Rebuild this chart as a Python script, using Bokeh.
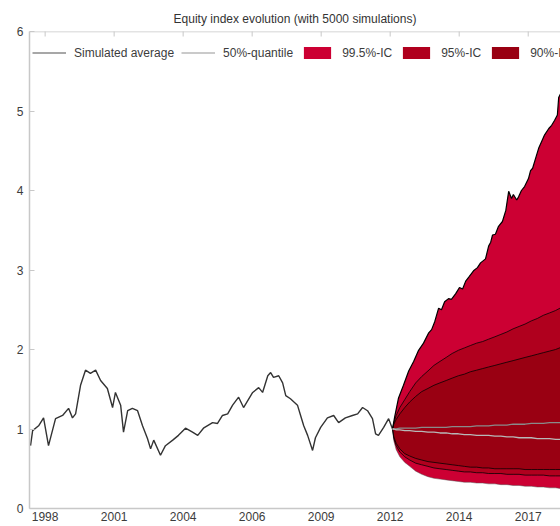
import math
from bokeh.plotting import figure
from bokeh.models import Legend, LegendItem, FixedTicker, Range1d, Span
from bokeh.embed import file_html
from bokeh.resources import INLINE

title_text = "Equity index evolution (with 5000 simulations)"

# historical index (decimal years, value)
hist_years = [1998.34, 1998.42, 1998.65, 1998.84, 1999.03, 1999.30, 1999.57, 1999.80, 1999.95, 2000.07,
              2000.26, 2000.45, 2000.64, 2000.84, 2001.03, 2001.29, 2001.49, 2001.60, 2001.80, 2001.91,
              2002.07, 2002.25, 2002.45, 2002.64, 2002.83, 2002.95, 2003.07, 2003.33, 2003.52, 2003.80,
              2004.02, 2004.29, 2004.56, 2004.76, 2004.98, 2005.33, 2005.52, 2005.71, 2005.91, 2006.10,
              2006.33, 2006.52, 2006.87, 2007.10, 2007.25, 2007.45, 2007.56, 2007.67, 2007.87, 2008.02,
              2008.14, 2008.32, 2008.59, 2008.71, 2008.83, 2008.98, 2009.17, 2009.28, 2009.48, 2009.74,
              2009.98, 2010.17, 2010.43, 2010.70, 2010.90, 2011.09, 2011.28, 2011.47, 2011.59, 2011.70,
              2011.90, 2012.09, 2012.24]
hist_values = [0.79, 0.98, 1.04, 1.14, 0.79, 1.13, 1.17, 1.26, 1.14, 1.19,
               1.55, 1.74, 1.70, 1.74, 1.61, 1.51, 1.27, 1.46, 1.30, 0.96,
               1.23, 1.26, 1.23, 1.04, 0.88, 0.75, 0.86, 0.67, 0.79, 0.86,
               0.92, 1.01, 0.96, 0.92, 1.01, 1.08, 1.07, 1.17, 1.19, 1.30,
               1.40, 1.27, 1.46, 1.52, 1.46, 1.67, 1.71, 1.65, 1.67, 1.58,
               1.42, 1.38, 1.30, 1.17, 1.04, 0.92, 0.73, 0.89, 1.02, 1.14,
               1.17, 1.08, 1.14, 1.17, 1.19, 1.27, 1.23, 1.13, 0.94, 0.92,
               1.02, 1.13, 1.00]

# simulated fan
fan_years = [2012.24, 2012.29, 2012.38, 2012.52, 2012.71, 2012.90, 2013.13, 2013.36, 2013.60, 2013.83,
             2014.06, 2014.30, 2014.53, 2014.77, 2015.00, 2015.23, 2015.47, 2015.70, 2015.93, 2016.17,
             2016.40, 2016.63, 2016.87, 2017.10, 2017.33, 2017.57, 2017.80, 2018.03, 2018.27, 2018.50,
             2018.73]
sim_average = [1.00, 1.00, 1.00, 1.01, 1.01, 1.01, 1.01, 1.02, 1.02, 1.02, 1.02, 1.02, 1.03, 1.03, 1.03,
               1.03, 1.04, 1.04, 1.04, 1.05, 1.05, 1.05, 1.06, 1.06, 1.06, 1.07, 1.07, 1.07, 1.08, 1.08, 1.08]
sim_median = [1.00, 1.00, 0.99, 0.99, 0.98, 0.98, 0.97, 0.97, 0.96, 0.96, 0.95, 0.95, 0.94, 0.94, 0.93,
              0.93, 0.92, 0.92, 0.92, 0.91, 0.91, 0.90, 0.90, 0.89, 0.89, 0.89, 0.88, 0.88, 0.88, 0.87, 0.87]
upper_90 = [1.00, 1.06, 1.12, 1.19, 1.27, 1.34, 1.41, 1.47, 1.51, 1.55, 1.58, 1.61, 1.64, 1.67, 1.69,
            1.72, 1.74, 1.76, 1.78, 1.80, 1.82, 1.84, 1.86, 1.88, 1.90, 1.92, 1.94, 1.96, 1.98, 2.00, 2.03]
lower_90 = [1.00, 0.90, 0.82, 0.75, 0.69, 0.66, 0.63, 0.61, 0.59, 0.58, 0.57, 0.56, 0.55, 0.54, 0.53,
            0.52, 0.52, 0.51, 0.51, 0.50, 0.50, 0.50, 0.50, 0.50, 0.49, 0.49, 0.49, 0.49, 0.49, 0.49, 0.49]
upper_95 = [1.00, 1.08, 1.17, 1.27, 1.37, 1.47, 1.58, 1.66, 1.73, 1.80, 1.85, 1.90, 1.95, 1.99, 2.02,
            2.05, 2.08, 2.10, 2.13, 2.16, 2.19, 2.22, 2.26, 2.29, 2.32, 2.36, 2.39, 2.43, 2.46, 2.49, 2.53]
lower_95 = [1.00, 0.88, 0.79, 0.71, 0.65, 0.61, 0.57, 0.55, 0.53, 0.51, 0.50, 0.49, 0.48, 0.47, 0.46,
            0.46, 0.45, 0.45, 0.44, 0.44, 0.44, 0.43, 0.43, 0.43, 0.42, 0.42, 0.42, 0.42, 0.41, 0.41, 0.41]
lower_995 = [1.00, 0.85, 0.74, 0.65, 0.58, 0.53, 0.47, 0.43, 0.40, 0.38, 0.37, 0.36, 0.35, 0.34, 0.33,
             0.33, 0.32, 0.32, 0.31, 0.31, 0.30, 0.30, 0.29, 0.29, 0.28, 0.28, 0.27, 0.27, 0.26, 0.26, 0.25]
upper_995_years = [2012.24, 2012.32, 2012.47, 2012.66, 2012.86, 2013.05, 2013.24, 2013.43, 2013.63, 2013.74,
                   2013.86, 2014.01, 2014.12, 2014.24, 2014.39, 2014.50, 2014.66, 2014.81, 2014.93, 2015.05,
                   2015.19, 2015.35, 2015.50, 2015.62, 2015.81, 2015.93, 2016.01, 2016.08, 2016.19, 2016.31,
                   2016.46, 2016.59, 2016.70, 2016.81, 2016.88, 2017.01, 2017.08, 2017.19, 2017.31, 2017.46,
                   2017.54, 2017.62, 2017.73, 2017.85, 2017.97, 2018.08, 2018.24, 2018.35, 2018.46, 2018.57,
                   2018.62, 2018.73]
upper_995 = [1.00, 1.15, 1.39, 1.55, 1.73, 1.85, 1.99, 2.08, 2.21, 2.25,
             2.35, 2.52, 2.50, 2.60, 2.64, 2.63, 2.70, 2.78, 2.76, 2.86,
             2.92, 2.99, 3.03, 3.09, 3.14, 3.30, 3.35, 3.44, 3.45, 3.55,
             3.61, 3.75, 3.99, 3.90, 3.95, 3.88, 3.92, 4.00, 4.05, 4.15,
             4.25, 4.28, 4.40, 4.53, 4.62, 4.70, 4.78, 4.82, 4.88, 4.95,
             5.17, 5.24]

x_tick_positions = [1998.9, 2001.55, 2004.2, 2006.85, 2009.5, 2012.15, 2014.8, 2017.45]
x_tick_labels = ["1998", "2001", "2004", "2006", "2009", "2012", "2014", "2017"]
y_ticks = [0, 1, 2, 3, 4, 5, 6]

series_labels = ["Simulated average", "50%-quantile", "99.5%-IC", "95%-IC", "90%-IC"]

FONT = "Liberation Sans"
AXIS_COL = "#c8c8c8"
TEXT_COL = "#3c3c3c"
C995, C95, C90 = "#cc0033", "#b0001e", "#990012"

p = figure(width=560, height=526, output_backend="svg", toolbar_location=None,
           x_range=Range1d(1998.30, 2018.69), y_range=Range1d(0, 6),
           min_border_left=29, min_border_right=0, min_border_top=31, min_border_bottom=18)
p.outline_line_color = None
p.grid.visible = False
p.background_fill_color = "white"
p.border_fill_color = "white"

p.title.text = title_text
p.title.align = "center"
p.title.text_font = FONT
p.title.text_font_size = "12px"
p.title.text_font_style = "normal"
p.title.text_color = "#333333"
p.title.standoff = 11

xa = p.below[0]
xa.ticker = FixedTicker(ticks=x_tick_positions)
xa.major_label_overrides = {t: l for t, l in zip(x_tick_positions, x_tick_labels)}
xa.major_tick_in = 0
xa.major_tick_out = 0
xa.minor_tick_line_color = None
xa.axis_line_color = AXIS_COL
xa.axis_line_width = 1.5
xa.major_label_text_font = FONT
xa.major_label_text_font_size = "12px"
xa.major_label_text_color = TEXT_COL
xa.major_label_standoff = 3

ya = p.left[0]
ya.ticker = FixedTicker(ticks=y_ticks)
ya.major_tick_in = 5
ya.major_tick_out = 0
ya.major_tick_line_color = AXIS_COL
ya.minor_tick_line_color = None
ya.axis_line_color = AXIS_COL
ya.axis_line_width = 1.5
ya.major_label_text_font = FONT
ya.major_label_text_font_size = "12px"
ya.major_label_text_color = TEXT_COL
ya.major_label_standoff = 6

# top box edge with inward ticks
p.add_layout(Span(location=6, dimension="width", line_color=AXIS_COL, line_width=1.5))
p.scatter(x_tick_positions, [y_ticks[-1]] * len(x_tick_positions), marker="dash",
          size=10, angle=math.pi / 2, line_color=AXIS_COL, line_width=1)

# history
p.line(hist_years, hist_values, line_color="#333333", line_width=1.4)

# bands
r995 = p.patch(upper_995_years + fan_years[::-1], upper_995 + lower_995[::-1],
               fill_color=C995, line_color=None)
r95 = p.patch(fan_years + fan_years[::-1], upper_95 + lower_95[::-1],
              fill_color=C95, line_color=None)
r90 = p.patch(fan_years + fan_years[::-1], upper_90 + lower_90[::-1],
              fill_color=C90, line_color=None)

p.line(upper_995_years, upper_995, line_color="black", line_width=1.2)
p.line(fan_years, lower_995, line_color="#555555", line_width=0.8, line_alpha=0.6)
for ys in (upper_95, upper_90, lower_95, lower_90):
    p.line(fan_years, ys, line_color="black", line_width=0.9, line_alpha=0.85)

r_avg = p.line(fan_years, sim_average, line_color="#8a8a8a", line_width=1.3)
r_med = p.line(fan_years, sim_median, line_color="#b8b8b8", line_width=1.3)

legend = Legend(items=[LegendItem(label=series_labels[0], renderers=[r_avg]),
                       LegendItem(label=series_labels[1], renderers=[r_med]),
                       LegendItem(label=series_labels[2], renderers=[r995]),
                       LegendItem(label=series_labels[3], renderers=[r95]),
                       LegendItem(label=series_labels[4], renderers=[r90])],
                orientation="horizontal", location=(3, 448), margin=0, padding=2,
                spacing=7, glyph_width=34, glyph_height=15, label_height=15,
                label_standoff=8, label_text_font=FONT, label_text_font_size="12px",
                label_text_color=TEXT_COL, border_line_color=None, background_fill_alpha=0)
p.add_layout(legend)

open("out.html", "w").write(file_html(p, INLINE))
